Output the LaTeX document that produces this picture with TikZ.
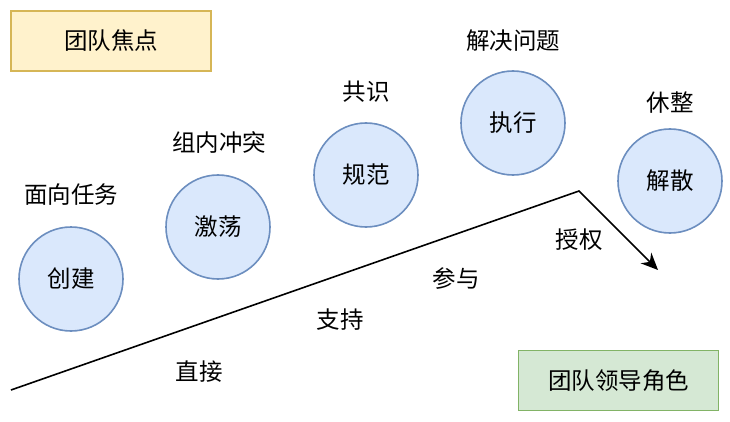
\documentclass[tikz,border=0pt]{standalone}
\usepackage{fontspec}
\setmainfont{Noto Sans CJK SC}
\usetikzlibrary{arrows.meta}
\definecolor{yfill}{HTML}{FFF2CC}
\definecolor{ystroke}{HTML}{D6B656}
\definecolor{gfill}{HTML}{D5E8D4}
\definecolor{gstroke}{HTML}{82B366}
\definecolor{bfill}{HTML}{DAE8FC}
\definecolor{bstroke}{HTML}{6C8EBF}
\tikzset{
  every node/.style={font=\fontsize{23.5}{28}\selectfont, inner sep=0pt},
  stage/.style={circle, draw=bstroke, fill=bfill, line width=1.6pt, minimum size=104pt},
  legendbox/.style={rectangle, line width=1.6pt, minimum width=200pt, minimum height=60pt},
  lbl/.style={},
}
\begin{document}
\begin{tikzpicture}[x=1pt,y=-1pt]
\useasboundingbox (0,0) rectangle (730,422);
\node[legendbox, draw=ystroke, fill=yfill] (focus) at (111,41) {团队焦点};
\node[legendbox, draw=gstroke, fill=gfill] (role) at (618.5,380.5) {团队领导角色};
\node[stage] (c1) at (71,279) {创建};
\node[stage] (c2) at (218,227) {激荡};
\node[stage] (c3) at (366,175) {规范};
\node[stage] (c4) at (513,123) {执行};
\node[stage] (c5) at (670,181) {解散};
\node[lbl] (t1) at (71,195) {面向任务};
\node[lbl] (t2) at (219,143) {组内冲突};
\node[lbl] (t3) at (366,92) {共识};
\node[lbl] (t4) at (513,41) {解决问题};
\node[lbl] (t5) at (670,103) {休整};
\node[lbl] (r1) at (199,372) {直接};
\node[lbl] (r2) at (340,320) {支持};
\node[lbl] (r3) at (456,279) {参与};
\node[lbl] (r4) at (579,240) {授权};
\coordinate (s) at (11,390);
\coordinate (p) at (579,191);
\coordinate (e) at (658,270);
\draw[line width=1.6pt, -{Stealth[length=17pt,width=15pt]}] (s) -- (p) -- (e);
\end{tikzpicture}
\end{document}
